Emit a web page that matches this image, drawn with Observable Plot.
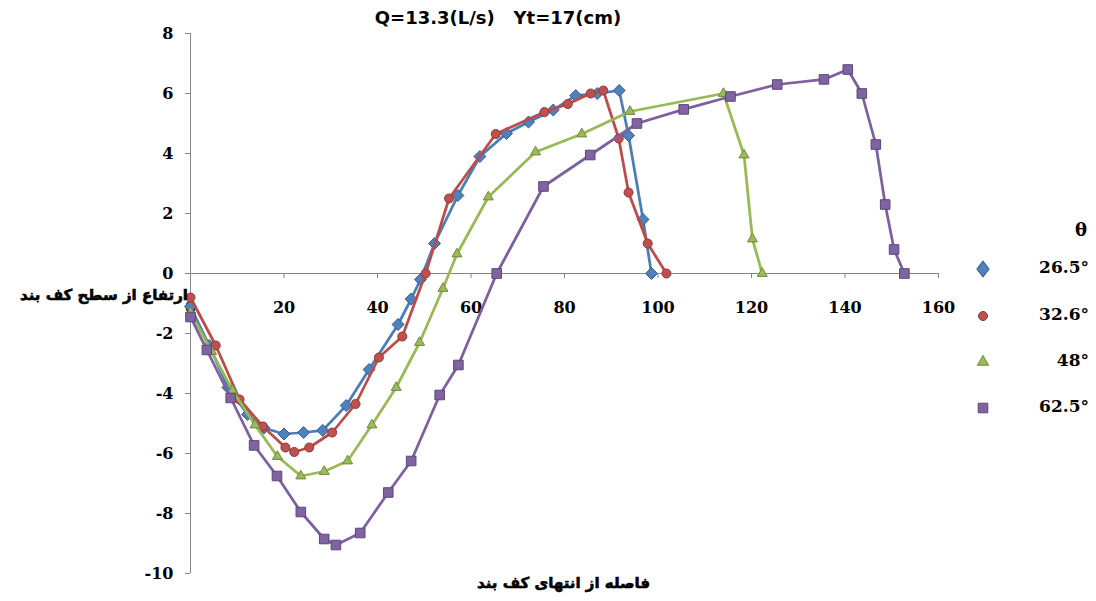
<!DOCTYPE html>
<html><head><meta charset="utf-8">
<script src="https://cdn.jsdelivr.net/npm/d3@7"></script>
<script src="https://cdn.jsdelivr.net/npm/@observablehq/plot@0.6"></script>
<style>
body{margin:0;background:#fff;}
#wrap{position:relative;width:1096px;height:601px;overflow:hidden;}
.ov{position:absolute;white-space:nowrap;color:#000;font-weight:bold;}
.title{font-family:"DejaVu Sans";font-size:18px;left:0;width:996px;text-align:center;top:7px;}
.ar{font-family:"DejaVu Sans";font-size:15px;direction:rtl;-webkit-text-stroke:0.6px #000;}
.leg{font-family:"DejaVu Serif";font-size:17px;}
</style></head><body><div id="wrap"></div>
<script>
// ---- data ----
const seriesNames = ["26.5°", "32.6°", "48°", "62.5°"];
const xTicks = [0, 20, 40, 60, 80, 100, 120, 140, 160];
const yTicks = [-10, -8, -6, -4, -2, 0, 2, 4, 6, 8];

const x265 = [0, 4, 8, 12.2, 15.7, 20, 24.2, 28.3, 33.3, 38.2, 44.4, 47.2, 49.2, 52.2, 57.2, 61.9, 67.6, 72.3, 77.6, 82.4, 87, 91.7, 93.7, 96.8, 98.6];
const y265 = [-1.1, -2.4, -3.8, -4.7, -5.15, -5.35, -5.3, -5.23, -4.4, -3.2, -1.7, -0.85, -0.2, 1.0, 2.6, 3.9, 4.67, 5.05, 5.45, 5.93, 6.0, 6.1, 4.6, 1.8, 0];

const x326 = [0, 5.4, 10.5, 15.5, 20.3, 22.2, 25.4, 30.3, 35.3, 40.3, 45.3, 50.3, 55.3, 65.3, 75.7, 80.7, 85.6, 88.3, 91.6, 93.7, 97.8, 101.8];
const y326 = [-0.8, -2.4, -4.2, -5.1, -5.8, -5.95, -5.8, -5.3, -4.35, -2.8, -2.1, 0, 2.5, 4.65, 5.38, 5.65, 6.0, 6.1, 4.5, 2.7, 1.0, 0];

const x48 = [0, 4.5, 9, 13.8, 18.6, 23.6, 28.6, 33.6, 38.8, 44, 49, 54, 57, 63.7, 73.8, 83.7, 94, 114, 118.4, 120.2, 122.3];
const y48 = [-1.3, -2.6, -3.9, -5.05, -6.1, -6.75, -6.6, -6.25, -5.05, -3.8, -2.3, -0.5, 0.65, 2.55, 4.05, 4.65, 5.4, 6.0, 3.95, 1.15, 0];

const x625 = [0, 3.5, 8.6, 13.6, 18.5, 23.6, 28.6, 31.1, 36.3, 42.3, 47.2, 53.3, 57.3, 65.5, 75.5, 85.5, 95.5, 105.5, 115.5, 125.5, 135.5, 140.6, 143.6, 146.6, 148.6, 150.5, 152.7];
const y625 = [-1.45, -2.55, -4.15, -5.73, -6.75, -7.95, -8.85, -9.05, -8.65, -7.3, -6.25, -4.05, -3.05, 0, 2.9, 3.95, 5.0, 5.47, 5.9, 6.3, 6.47, 6.8, 6.0, 4.3, 2.3, 0.8, 0];

// ---- styles ----
const lineColors = ["#4A7EBB", "#BE4B48", "#98B954", "#7D60A0"];
const fillColors = ["#4F81BD", "#C0504D", "#9BBB59", "#8064A2"];
const edgeColors = ["#385D8A", "#8C3836", "#71893F", "#5C4776"];
const symbols = ["diamond2", "circle", "triangle", "square"];
const radii = [5.4, 4.5, 3.7, 5.4];
const legendRadii = [6.5, 4.5, 4.2, 5.4];

const xs = [x265, x326, x48, x625];
const ys = [y265, y326, y48, y625];
const tables = xs.map((xa, i) => xa.map((x, j) => ({series: seriesNames[i], x, y: ys[i][j]})));

const axisColor = "#868686";
const marks = [
  Plot.ruleX([0], {stroke: axisColor}),
  Plot.ruleY([0], {stroke: axisColor}),
  Plot.axisY({ticks: yTicks, tickSize: 5, tickPadding: 12, label: null, stroke: axisColor, tickFormat: d => String(d), fontSize: 16}),
  Plot.ruleX(xTicks.filter(d => d > 0), {x: d => d, y1: 0, y2: -0.17, stroke: axisColor}),
  Plot.text(xTicks, {x: d => d, y: 0, dy: 34, text: d => String(d), fontSize: 16, fill: "#000"})
];
tables.forEach((t, i) => {
  marks.push(Plot.line(t, {x: "x", y: "y", stroke: lineColors[i], strokeWidth: 2.75}));
  marks.push(Plot.dot(t, {x: "x", y: "y", symbol: symbols[i], r: radii[i], fill: fillColors[i], stroke: edgeColors[i], strokeWidth: 1}));
});

const chart = Plot.plot({
  width: 1096, height: 601,
  marginLeft: 190, marginRight: 158, marginTop: 33, marginBottom: 28,
  x: {domain: [0, 160], axis: null},
  y: {domain: [-10, 8], axis: null},
  style: {fontFamily: "DejaVu Serif", fontWeight: "bold", fontSize: "16px", color: "#000", background: "#fff", overflow: "visible"},
  marks
});
const wrap = document.getElementById("wrap");
wrap.appendChild(chart);

function ov(cls, text, css) {
  const d = document.createElement("div");
  d.className = "ov " + cls;
  d.textContent = text;
  Object.assign(d.style, css);
  wrap.appendChild(d);
  return d;
}
ov("title", "Q=13.3(L/s)\u00a0\u00a0\u00a0Yt=17(cm)", {});
ov("ar", "ارتفاع از سطح کف بند", {right: (1096 - 188) + "px", top: "286px"});
ov("ar", "فاصله از انتهای کف بند", {left: "477px", top: "574px"});

// legend
ov("leg", "θ", {right: "9px", top: "219px", fontSize: "18px"});
const legY = [269, 316, 362, 408];
const symMap = {diamond2: d3.symbolDiamond2, circle: d3.symbolCircle, triangle: d3.symbolTriangle, square: d3.symbolSquare};
seriesNames.forEach((name, i) => {
  ov("leg", name, {right: "7px", top: (legY[i] - 12) + "px"});
  const svg = d3.create("svg").attr("width", 24).attr("height", 24)
    .style("position", "absolute").style("left", "971px").style("top", (legY[i] - 12) + "px");
  svg.append("path").attr("transform", i === 0 ? "translate(12,12) scale(0.85,1.1)" : "translate(12,12)")
    .attr("d", d3.symbol(symMap[symbols[i]], Math.PI * legendRadii[i] * legendRadii[i])())
    .attr("fill", fillColors[i]).attr("stroke", edgeColors[i]);
  wrap.appendChild(svg.node());
});
</script></body></html>
